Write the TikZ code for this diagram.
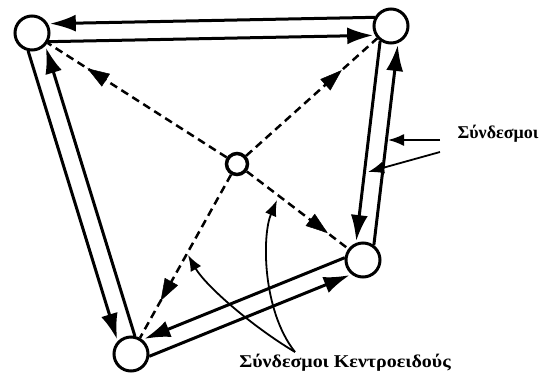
\documentclass[tikz,border=0pt]{standalone}
\usepackage{fontspec}
\setmainfont{Liberation Serif}
\usetikzlibrary{calc,arrows.meta}
\newcommand\al{16pt}
\newcommand\off{9pt}
\newcommand\twoway[2]{%
  \coordinate (#1#2p) at ($(#1)!\al!(#2)$);
  \coordinate (#1#2q) at ($(#2)!\al!(#1)$);
  \coordinate (#1#2pr) at ($(#1#2p)!\off!-90:(#2)$);
  \coordinate (#1#2qr) at ($(#1#2q)!\off!90:(#1)$);
  \coordinate (#1#2pl) at ($(#1#2p)!\off!90:(#2)$);
  \coordinate (#1#2ql) at ($(#1#2q)!\off!-90:(#1)$);
  \draw[edge] (#1#2pr) -- (#1#2qr);
  \draw[edge] (#1#2ql) -- (#1#2pl);
}
\newcommand\spoke[2]{%
  \draw[dline] (E) -- (#1);
  \coordinate (#1h0) at ($(E)!#2-0.01!(#1)$);
  \coordinate (#1h1) at ($(E)!#2!(#1)$);
  \draw[dhead] (#1h0) -- (#1h1);
}
\begin{document}
\begin{tikzpicture}[x=1pt,y=-1pt,
  site/.style={circle,draw,line width=3pt,fill=white,minimum size=34pt,inner sep=0pt},
  hub/.style={circle,draw,line width=3.5pt,fill=white,minimum size=21pt,inner sep=0pt},
  edge/.style={line width=3pt,-{Latex[length=26pt,width=17pt]},shorten >=2pt},
  dline/.style={line width=2.5pt,dash pattern=on 8pt off 5pt},
  dhead/.style={line width=0.5pt,-{Triangle[length=22pt,width=15pt]}},
  larrow/.style={line width=1.8pt,-{Latex[length=16pt,width=12pt]}},
  lbl/.style={font=\bfseries\fontsize{18}{20}\selectfont,inner sep=0pt}]
\useasboundingbox (0,0) rectangle (546,378);
\node[site] (A) at (32,33) {};
\node[site] (B) at (391,26) {};
\node[site] (C) at (363,260) {};
\node[site] (D) at (131,354) {};
\node[hub] (E) at (237,164) {};
\twoway{A}{B}
\twoway{B}{C}
\twoway{C}{D}
\twoway{D}{A}
\spoke{A}{0.73}
\spoke{B}{0.68}
\spoke{C}{0.72}
\spoke{D}{0.72}
\node[lbl] (lab1) at (498,134) {Σύνδεσμοι};
\node[lbl,xscale=1.11] (lab2) at (345,363) {Σύνδεσμοι Κεντροειδούς};
\coordinate (l1) at (440,140);
\coordinate (l1t) at (388,140);
\coordinate (l2) at (440,152);
\coordinate (l2t) at (368,172);
\draw[larrow] (l1) -- (l1t);
\draw[larrow] (l2) -- (l2t);
\coordinate (cs) at (295,352);
\coordinate (t1) at (188,255);
\coordinate (t2) at (277,200);
\draw[larrow] (cs) .. controls (250,325) and (205,285) .. (t1);
\draw[larrow] (cs) .. controls (262,310) and (262,235) .. (t2);
\end{tikzpicture}
\end{document}
